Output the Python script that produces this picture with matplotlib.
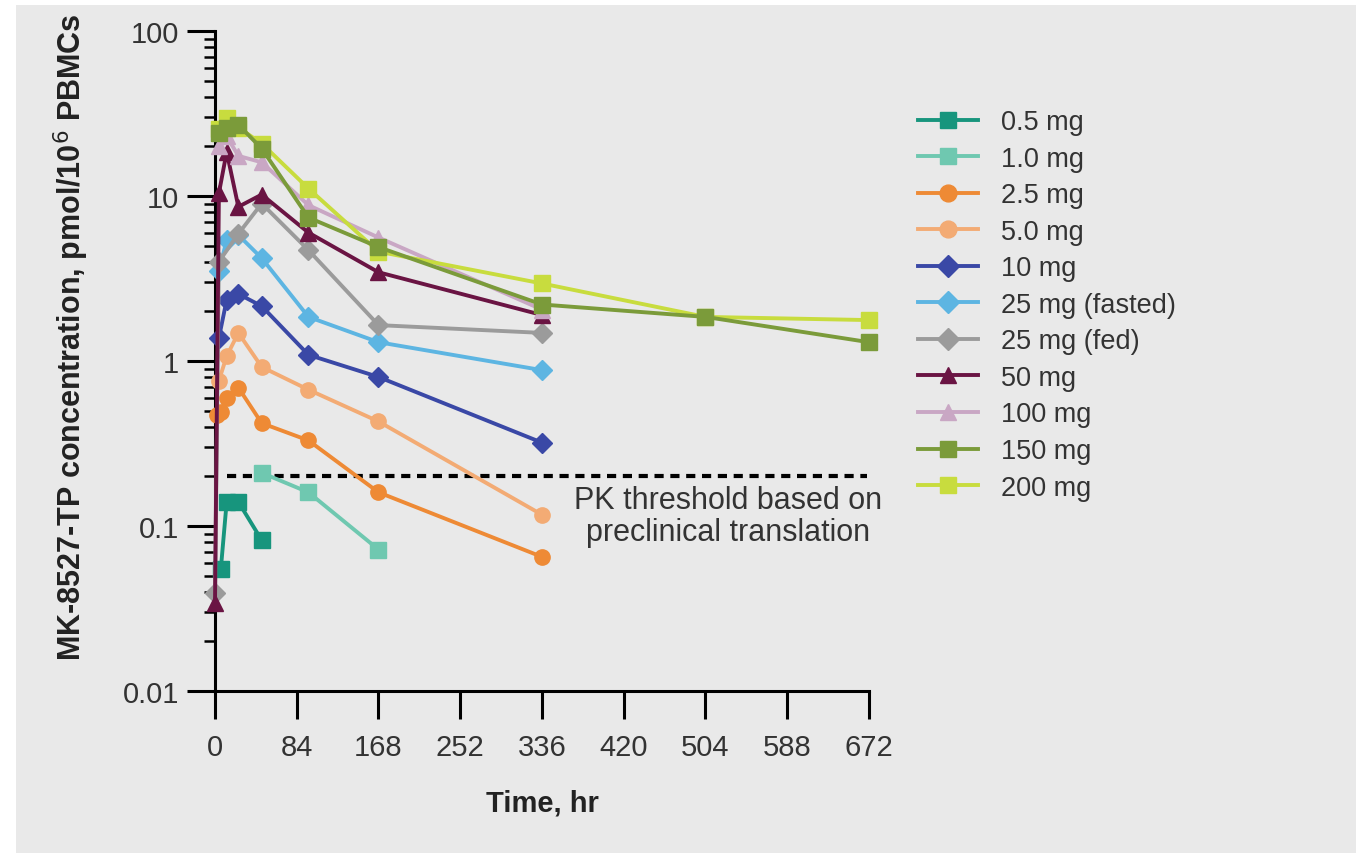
import matplotlib
matplotlib.use("Agg")
from matplotlib import pyplot as plt
from matplotlib.patches import Rectangle
from matplotlib.ticker import LogLocator, NullFormatter, FixedLocator, FuncFormatter

plt.rcParams["font.family"] = ["Liberation Sans", "DejaVu Sans"]

# dose groups, sampling times (hr) and MK-8527-TP levels (pmol/10^6 PBMCs)
labels = ["0.5 mg", "1.0 mg", "2.5 mg", "5.0 mg", "10 mg", "25 mg (fasted)",
          "25 mg (fed)", "50 mg", "100 mg", "150 mg", "200 mg"]

t_05 = [6, 12, 24, 48]
c_05 = [0.055, 0.14, 0.14, 0.082]

t_1 = [48, 96, 168]
c_1 = [0.21, 0.16, 0.072]

t_25 = [2, 6, 12, 24, 48, 96, 168, 336]
c_25 = [0.47, 0.49, 0.60, 0.69, 0.42, 0.33, 0.16, 0.065]

t_5 = [4, 12, 24, 48, 96, 168, 336]
c_5 = [0.76, 1.07, 1.48, 0.92, 0.67, 0.43, 0.117]

t_10 = [4, 12, 24, 48, 96, 168, 336]
c_10 = [1.38, 2.35, 2.55, 2.15, 1.09, 0.80, 0.32]

t_25fast = [4, 12, 24, 48, 96, 168, 336]
c_25fast = [3.5, 5.4, 5.8, 4.2, 1.85, 1.30, 0.88]

t_25fed = [0, 4, 24, 48, 96, 168, 336]
c_25fed = [0.039, 4.0, 5.9, 9.0, 4.7, 1.65, 1.48]

t_50 = [0, 4, 12, 24, 48, 96, 168, 336]
c_50 = [0.034, 10.4, 18.5, 8.6, 10.2, 6.0, 3.45, 1.9]

t_100 = [4, 12, 24, 48, 96, 168, 336]
c_100 = [20.0, 23.0, 17.5, 16.0, 8.8, 5.6, 2.05]

t_150 = [4, 12, 24, 48, 96, 168, 336, 504, 672]
c_150 = [24.0, 26.0, 27.0, 19.4, 7.4, 4.9, 2.2, 1.85, 1.30]

t_200 = [4, 12, 24, 48, 96, 168, 336, 504, 672]
c_200 = [25.5, 29.5, 26.0, 20.8, 11.1, 4.6, 2.95, 1.85, 1.77]

pk_threshold = 0.2
xticks = [0, 84, 168, 252, 336, 420, 504, 588, 672]

series = [
    (t_05, c_05, "#17957d", "s", 11),
    (t_1, c_1, "#6fc8b0", "s", 11),
    (t_25, c_25, "#ee8a35", "o", 11),
    (t_5, c_5, "#f3ab74", "o", 11),
    (t_10, c_10, "#3a48a6", "D", 10),
    (t_25fast, c_25fast, "#5db5e2", "D", 10),
    (t_25fed, c_25fed, "#9b9b9b", "D", 10),
    (t_50, c_50, "#6a1443", "^", 11),
    (t_100, c_100, "#c9a7c4", "^", 11),
    (t_150, c_150, "#7b9b3a", "s", 11),
    (t_200, c_200, "#c8dc3e", "s", 11),
]
zorders = [3, 3, 3, 3, 3, 3, 3, 3, 3, 5, 4]

bg = "#e9e9e9"
fig = plt.figure(figsize=(13.56, 8.54), dpi=100, facecolor="white")
fig.patches.append(Rectangle((0.012, 0.0), 0.988, 0.993, transform=fig.transFigure,
                             facecolor=bg, edgecolor="none", zorder=-10))

ax = fig.add_axes([215 / 1356, 162 / 854, 654 / 1356, 660 / 854])
ax.patch.set_alpha(0)

for (t, c, col, mk, ms), lab, z in zip(series, labels, zorders):
    ax.plot(t, c, color=col, marker=mk, markersize=ms, markeredgecolor=col,
            linewidth=2.8, label=lab, clip_on=False, zorder=z)

ax.plot([12, 670], [pk_threshold, pk_threshold], color="black",
        linestyle=(0, (2.2, 1.6)), linewidth=3, zorder=2)
ax.text(527, pk_threshold * 0.89, "PK threshold based on\npreclinical translation",
        ha="center", va="top", fontsize=22, color="#333333", linespacing=1.12)

ax.set_yscale("log")
ax.set_ylim(0.01, 100)
ax.set_xlim(0, 672)

ax.xaxis.set_major_locator(FixedLocator(xticks))
ax.yaxis.set_major_locator(LogLocator(base=10))
ax.yaxis.set_minor_locator(LogLocator(base=10, subs=range(2, 10)))
ax.yaxis.set_minor_formatter(NullFormatter())
ax.yaxis.set_major_formatter(FuncFormatter(lambda v, p: "%g" % v))

for side in ["top", "right"]:
    ax.spines[side].set_visible(False)
for side in ["left", "bottom"]:
    ax.spines[side].set_linewidth(2.2)

ax.tick_params(axis="x", which="major", length=20, width=2.2, pad=10,
               labelsize=21, labelcolor="#333333")
ax.tick_params(axis="y", which="major", length=20, width=2.2, pad=6,
               labelsize=21, labelcolor="#333333")
ax.tick_params(axis="y", which="minor", length=8, width=1.8)

ax.set_xlabel("Time, hr", fontsize=21, fontweight="bold", color="#222222")
ax.set_ylabel("MK-8527-TP concentration, pmol/10$^{6}$ PBMCs", fontsize=22,
              fontweight="bold", color="#222222")
ax.xaxis.set_label_coords(0.5, -0.148)
ax.yaxis.set_label_coords(-0.19, 0.537)

fig.legend(loc="upper left", bbox_to_anchor=(918 / 1356, 1 - 110 / 854),
           frameon=False, fontsize=19.5, handlelength=2.2, handletextpad=0.85,
           labelspacing=0.39, borderpad=0, borderaxespad=0, labelcolor="#333333",
           markerscale=1.1)

fig.savefig("out.png", dpi=100, facecolor=fig.get_facecolor())
